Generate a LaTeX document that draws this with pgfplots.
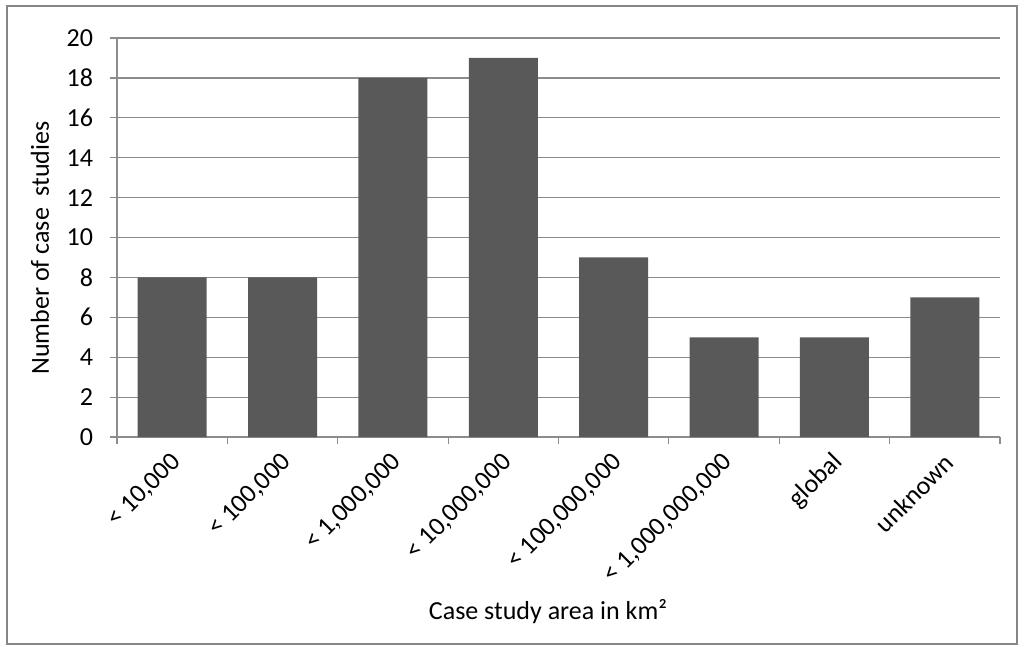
\documentclass[border=0pt]{standalone}
\usepackage{pgfplots}
\pgfplotsset{compat=1.18}
\usepackage{fontspec}
\setmainfont{Carlito}
\definecolor{barc}{HTML}{595959}
\definecolor{gridc}{HTML}{8C8C8C}
\definecolor{borderc}{HTML}{868686}
\begin{document}
\begin{tikzpicture}[x=0.5pt,y=-0.5pt]
\useasboundingbox (0,0) rectangle (1018,648);
\draw[borderc, line width=1.1pt] (7,6) rectangle (1017,644);
\begin{axis}[
  at={(58.5pt,-218.5pt)}, anchor=south west,
  scale only axis, width=441.5pt, height=199.5pt,
  xmin=-0.5, xmax=7.5, ymin=0, ymax=20,
  axis x line=bottom, axis y line=left,
  axis line style={gridc, line width=0.6pt, -},
  ytick={0,2,...,20},
  ymajorgrids, grid style={gridc, line width=0.6pt},
  xtick={0,...,7},
  xticklabels={{< 10,000},{< 100,000},{< 1,000,000},{< 10,000,000},{< 100,000,000},{< 1,000,000,000},{global},{unknown}},
  major x tick style={draw=none},
  minor xtick={-0.5,0.5,...,7.5},
  minor x tick style={gridc, line width=0.6pt},
  y tick style={gridc, line width=0.6pt},
  tick align=outside, major tick length=3.5pt, minor tick length=3.5pt,
  xticklabel style={rotate=45, anchor=east, font=\fontsize{13}{15}\selectfont, text=black, xshift=0pt, yshift=-6.6pt},
  yticklabel style={font=\fontsize{13}{15}\selectfont, text=black, xshift=-5pt},
  /pgf/number format/assume math mode=true,
  clip=false,
]
\addplot[ybar, bar width=34.5pt, fill=barc, draw=none] coordinates {
(0,8) (1,8) (2,18) (3,19) (4,9) (5,5) (6,5) (7,7)
};
\end{axis}
\node[rotate=90, font=\fontsize{13}{15}\selectfont] at (40,248) {Number of case\ \ studies};
\node[font=\fontsize{13}{15}\selectfont] at (548,612) {Case study area in km²};
\end{tikzpicture}
\end{document}
